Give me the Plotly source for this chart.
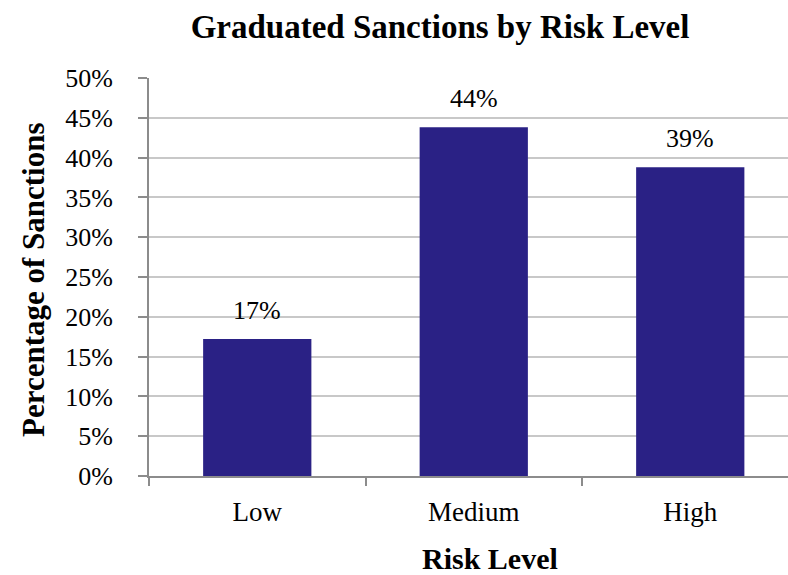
import plotly.graph_objects as go

categories = ["Low", "Medium", "High"]
values = [17.2, 43.8, 38.8]
y_ticks = [0, 5, 10, 15, 20, 25, 30, 35, 40, 45, 50]
y_tick_labels = [f"{v}%" for v in y_ticks]

FONT = "Liberation Serif"
BAR = "#2a2185"

fig = go.Figure(
    go.Bar(
        x=categories,
        y=values,
        width=0.5,
        marker=dict(color=BAR, line=dict(width=0)),
    )
)

for c, v in zip(categories, values):
    fig.add_annotation(
        x=c, y=v, text=f"{v:.0f}%",
        xref="x", yref="y",
        showarrow=False,
        yanchor="bottom", yshift=12,
        font=dict(family=FONT, size=26, color="black"),
    )

W, H = 788, 575
L, R, T, B = 149, 0, 78, 99
cat_px = 216.5
right_extra = (L + 3 * cat_px) - W  # portion of last category cropped

fig.update_layout(
    width=W,
    height=H,
    margin=dict(l=L, r=R, t=T, b=B),
    paper_bgcolor="white",
    plot_bgcolor="white",
    showlegend=False,
    font=dict(family=FONT, size=26, color="black"),
    title=dict(
        text="<b>Graduated Sanctions by Risk Level</b>",
        x=440 / W,
        xanchor="center",
        y=1 - 26 / H,
        yanchor="middle",
        font=dict(family=FONT, size=33, color="black"),
    ),
    bargap=0.5,
)

fig.update_xaxes(
    range=[-0.5, 2.5 - right_extra / cat_px],
    showgrid=False,
    showline=True,
    linecolor="#8c8c8c",
    linewidth=2,
    ticks="outside",
    ticklen=8,
    tickwidth=2,
    tickcolor="#8c8c8c",
    tickson="boundaries",
    tickfont=dict(family=FONT, size=27, color="black"),
    ticklabelstandoff=11,
)

fig.update_yaxes(
    range=[0, 50],
    tickvals=y_ticks,
    ticktext=y_tick_labels,
    showgrid=True,
    gridcolor="#c8c8c8",
    gridwidth=2,
    showline=True,
    linecolor="#8c8c8c",
    linewidth=2,
    ticks="outside",
    ticklen=9,
    tickwidth=2,
    tickcolor="#8c8c8c",
    tickfont=dict(family=FONT, size=26, color="black"),
    ticklabelstandoff=20,
    zeroline=False,
)

fig.add_annotation(
    text="<b>Risk Level</b>",
    xref="paper", yref="paper",
    x=(490 - L) / (W - L), y=-(558 - (H - B)) / (H - T - B),
    xanchor="center", yanchor="middle",
    showarrow=False,
    font=dict(family=FONT, size=30, color="black"),
)
fig.add_annotation(
    text="<b>Percentage of Sanctions</b>",
    xref="paper", yref="paper",
    x=-(L - 33) / (W - L), y=0.5 - (280 - (T + (H - T - B) / 2)) / (H - T - B),
    xanchor="center", yanchor="middle",
    textangle=-90,
    showarrow=False,
    font=dict(family=FONT, size=31, color="black"),
)

fig.write_html("out.html")
